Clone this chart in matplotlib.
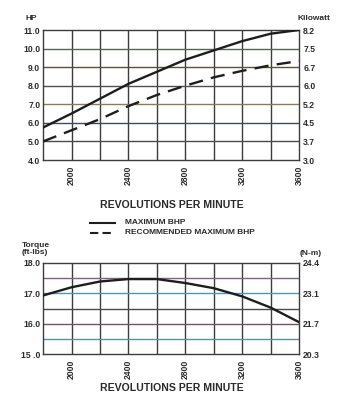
import matplotlib
matplotlib.use("Agg")
from matplotlib import pyplot as plt

rpm = [1800, 2000, 2200, 2400, 2600, 2800, 3000, 3200, 3400, 3600]
max_bhp = [5.75, 6.5, 7.3, 8.1, 8.75, 9.4, 9.9, 10.4, 10.8, 11.0]
rec_bhp = [5.0, 5.6, 6.2, 6.9, 7.5, 8.0, 8.45, 8.8, 9.1, 9.33]
torque = [16.93, 17.2, 17.39, 17.47, 17.47, 17.34, 17.17, 16.9, 16.53, 16.05]

rpm_ticks = [2000, 2400, 2800, 3200, 3600]
hp_ticks = [4.0, 5.0, 6.0, 7.0, 8.0, 9.0, 10.0, 11.0]
kw_labels = ["3.0", "3.7", "4.5", "5.2", "6.0", "6.7", "7.5", "8.2"]
tq_ticks = [15.0, 16.0, 17.0, 18.0]
tq_labels = ["15 .0", "16.0", "17.0", "18.0"]
nm_labels = ["20.3", "21.7", "23.1", "24.4"]

ink = "#2b2b2b"
plt.rcParams['font.family'] = ['Liberation Sans', 'DejaVu Sans']
plt.rcParams['font.weight'] = 'bold'

fig = plt.figure(figsize=(3.56, 4.0), dpi=100)
fig.patch.set_facecolor("white")


def grid_axes(ax, ymin, ymax, hlines, hcolors):
    ax.set_xlim(1800, 3600)
    ax.set_ylim(ymin, ymax)
    for x in range(2000, 3600, 200):
        ax.axvline(x, color="#3c3c3c", lw=1.0, zorder=1)
    for y, c in zip(hlines, hcolors):
        ax.axhline(y, color=c, lw=1.0, zorder=1)
    for s in ax.spines.values():
        s.set_color("#3c3c3c")
        s.set_linewidth(1.0)
    ax.set_xticks(rpm_ticks)
    ax.set_xticklabels([str(r) for r in rpm_ticks], rotation=90)
    ax.tick_params(axis='both', length=0, labelsize=6.2, colors=ink, pad=2)
    ax.tick_params(axis='x', pad=4)


# top: horsepower
ax1 = fig.add_axes([0.121, 0.6, 0.719, 0.325])
grid_axes(ax1, 4.0, 11.0, [5.0, 6.0, 7.0, 8.0, 9.0, 10.0],
          ["#4a4a4a", "#3e4a60", "#8a7c50", "#505050", "#5a5238", "#566456"])
ax1.plot(rpm, max_bhp, color="#1e1e1e", lw=1.7, zorder=3)
ax1.plot(rpm, rec_bhp, color="#1e1e1e", lw=1.7, ls=(0, (6, 3.5)), zorder=3)
ax1.set_yticks(hp_ticks)
ax1.set_yticklabels(["%.1f" % v for v in hp_ticks])
ax1r = ax1.twinx()
ax1r.set_ylim(4.0, 11.0)
ax1r.set_yticks(hp_ticks)
ax1r.set_yticklabels(kw_labels)
ax1r.tick_params(length=0, labelsize=6.2, colors=ink, pad=3)
for s in ax1r.spines.values():
    s.set_visible(False)
fig.text(0.073, 0.955, "HP", fontsize=6, color=ink, ha='left', va='center')
fig.text(0.836, 0.955, "Kilowatt", fontsize=6, color=ink, ha='left', va='center')
fig.text(0.483, 0.488, "REVOLUTIONS PER MINUTE", fontsize=7.6, color=ink,
         ha='center', va='center')

# legend
fig.lines.append(plt.Line2D([0.253, 0.323], [0.443, 0.443], color="#1e1e1e",
                            lw=1.5, transform=fig.transFigure))
fig.lines.append(plt.Line2D([0.253, 0.323], [0.418, 0.418], color="#1e1e1e",
                            lw=1.5, ls=(0, (4, 2)), transform=fig.transFigure))
fig.text(0.352, 0.443, "MAXIMUM BHP", fontsize=6.0, color=ink,
         ha='left', va='center')
fig.text(0.352, 0.418, "RECOMMENDED MAXIMUM BHP", fontsize=6.0, color=ink,
         ha='left', va='center')

# bottom: torque
ax2 = fig.add_axes([0.121, 0.115, 0.719, 0.2275])
grid_axes(ax2, 15.0, 18.0, [15.5, 16.0, 16.5, 17.0, 17.5],
          ["#5a8ea6", "#7a5066", "#4a4a4a", "#4a98b8", "#86607a"])
ax2.plot(rpm, torque, color="#1e1e1e", lw=1.7, zorder=3)
ax2.set_yticks(tq_ticks)
ax2.set_yticklabels(tq_labels)
ax2r = ax2.twinx()
ax2r.set_ylim(15.0, 18.0)
ax2r.set_yticks(tq_ticks)
ax2r.set_yticklabels(nm_labels)
ax2r.tick_params(length=0, labelsize=6.2, colors=ink, pad=3)
for s in ax2r.spines.values():
    s.set_visible(False)
fig.text(0.062, 0.378, "Torque\n(ft-lbs)", fontsize=6, color=ink,
         ha='left', va='center', linespacing=0.95)
fig.text(0.843, 0.366, "(N-m)", fontsize=6, color=ink, ha='left', va='center')
fig.text(0.483, 0.03, "REVOLUTIONS PER MINUTE", fontsize=7.6, color=ink,
         ha='center', va='center')

fig.savefig("out.png", dpi=100, facecolor="white")
